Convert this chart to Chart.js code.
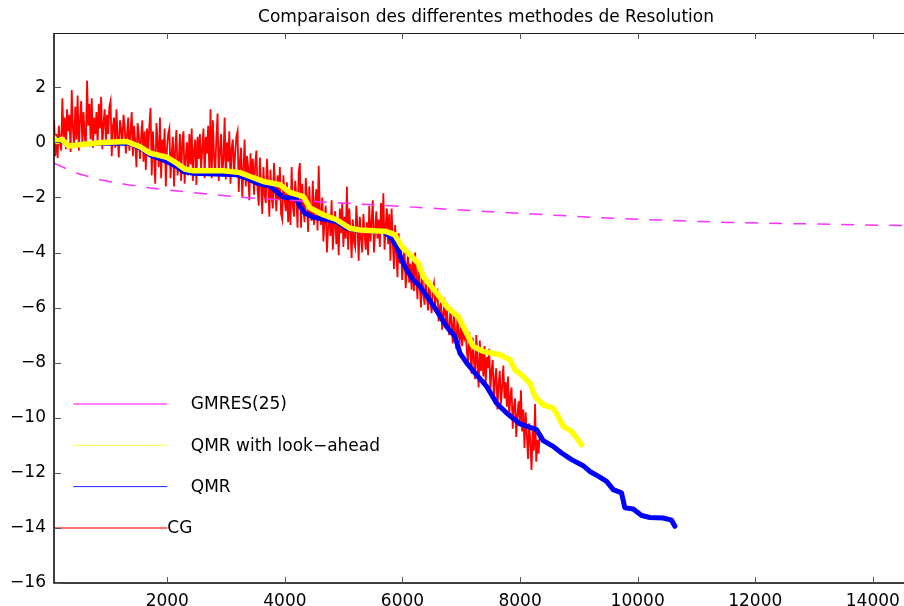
<!DOCTYPE html>
<html>
<head>
<meta charset="utf-8">
<title>Comparaison des differentes methodes de Resolution</title>
<script src="https://cdn.jsdelivr.net/npm/chart.js@4.4.1/dist/chart.umd.min.js"></script>
<style>
  body { margin: 0; background: #fff; }
  #wrap { width: 904px; height: 606px; }
</style>
</head>
<body>
<div id="wrap"><canvas id="chart" width="904" height="606"></canvas></div>
<script>
const chartTitle = 'Comparaison des differentes methodes de Resolution';
const xTicks = [2000, 4000, 6000, 8000, 10000, 12000, 14000];
const yTicks = [-16, -14, -12, -10, -8, -6, -4, -2, 0, 2];

// GMRES(25), dashed magenta
const gmresIter = [73, 460, 855, 1300, 1706, 2556, 3457, 4480, 5790, 7320, 9480, 11520, 14460, 14700];
const gmresRes = [-0.76, -1.12, -1.36, -1.53, -1.66, -1.85, -2.03, -2.15, -2.3, -2.5, -2.75, -2.91, -3.02, -3.03];

// QMR with look-ahead, yellow
const qmrlaIter = [73, 124, 204, 316, 571, 911, 1309, 1535, 1706, 1989, 2159, 2301, 2442, 2952, 3236, 3406,
  3632, 3916, 4086, 4312, 4426, 4652, 4880, 5106, 5276, 5730, 5871, 5986, 6127, 6268, 6353, 6467, 6581,
  6778, 6948, 7091, 7203, 7373, 7657, 7827, 7912, 8053, 8167, 8252, 8393, 8563, 8648, 8733, 8876, 8961, 9046];
const qmrlaRes = [0.16, 0.03, 0.11, -0.13, -0.07, -0.01, 0.03, -0.16, -0.39, -0.54, -0.76, -0.98, -1.03, -1.03, -1.10, -1.24,
  -1.42, -1.54, -1.82, -1.97, -2.38, -2.63, -2.81, -3.12, -3.18, -3.24, -3.36, -3.78, -4.08, -4.39, -4.87, -5.17, -5.47,
  -6.02, -6.32, -6.93, -7.41, -7.59, -7.71, -7.89, -8.26, -8.50, -8.74, -9.23, -9.53, -9.65, -9.95, -10.31, -10.50, -10.73, -10.98];

// QMR, blue
const qmrIter = [73, 204, 316, 571, 911, 1365, 1592, 1706, 1932, 2159, 2272, 2442, 3180, 3350, 3520, 3746, 3860, 3972,
  4200, 4256, 4341, 4482, 4880, 5050, 5220, 5673, 5786, 5900, 5985, 6071, 6183, 6297, 6433, 6608, 6751, 6892,
  6977, 7091, 7261, 7431, 7601, 7771, 7997, 8281, 8393, 8563, 8706, 8876, 9073, 9187, 9328, 9471, 9584, 9726,
  9782, 9924, 10067, 10208, 10434, 10577, 10633];
const qmrRes = [0.12, 0.08, -0.12, -0.06, -0.02, -0.03, -0.27, -0.46, -0.64, -0.88, -1.06, -1.12, -1.18, -1.30, -1.48, -1.59, -1.79, -1.99,
  -2.06, -2.33, -2.57, -2.72, -2.88, -3.12, -3.18, -3.24, -3.42, -3.78, -4.27, -4.63, -4.99, -5.23, -5.64, -6.20, -6.69, -7.05,
  -7.65, -8.01, -8.44, -8.86, -9.47, -9.83, -10.22, -10.43, -10.83, -11.04, -11.28, -11.52, -11.74, -11.95, -12.12, -12.31, -12.61, -12.73,
  -13.27, -13.31, -13.55, -13.62, -13.64, -13.72, -13.94];

// CG, red: one value every cgStep iterations
const cgStart = 75;
const cgStep = 20;
const cgRes = [
  0.8, -0.5, 0.3, -0.57, 0.6, 0.0,
  -0.3, 1.6, 0.2, 0.9, -0.25, 1.2, 0.4, 1.0,
  -0.35, 1.9, 0.5, -0.2, 1.3, 0.1, 1.7, -0.3, 0.8, 1.5, -0.1, 1.1,
  0.2, -0.1, 2.24, 0.6, 1.4, 0.1,
  1.6, -0.2, 0.9, 0.3, 1.1, -0.1, 1.4, 0.5, 1.65, -0.25, 0.7, 1.2, 0.0, 1.0, 0.3, 1.3,
  1.5, -0.5, 0.6, 0.9, -0.2, 1.2, 0.2, -0.55, 0.8, 0.5, -0.1, 1.0, 0.6, -0.4, 0.3, 0.9, -0.3, 0.4,
  1.1, -0.5, 0.6, 0.0, -0.9, 0.7, 0.3, -0.6, 0.2, 0.8, -0.7, 0.4, -1.0, 0.5, -0.3, 0.6,
  1.25, -1.2, 0.4, -0.5, -1.5, 0.7, 0.0, -0.9, 0.9, -1.3, 0.1, -0.6, 0.5, -1.6, -0.2, 0.3,
  0.5, -1.3, -0.4, 0.2, -1.6, -0.2, 0.45, -1.2, -0.7, 0.3, -1.4, 0.0,
  0.4, -1.5, -0.5, 0.0, -1.2, 0.3, -0.8, 0.5, -1.4, -0.3, 0.1, -1.55, 0.2, -0.6, 0.3, -1.0, -0.2, 0.5, -1.3, 0.2, -0.4, 0.6, -1.1, 1.2,
  -1.3, 0.8, -0.5, -1.1, 0.2, 1.05, -1.4, -0.3, 0.3, -1.2, -0.6, 0.9, -1.35, 0.0, -0.7, 0.4, -1.5, -0.2, 0.1, -1.2, -0.4, 0.2,
  0.4, -1.8, -0.7, -0.2, -2.0, -1.0, 0.1, -1.6, -0.5, -0.9, -2.1, -0.4, -1.3, -0.6, -1.9, -0.8, -0.3, -1.7,
  -2.3, -0.55, -1.6, -2.6, -0.9, -1.9, -2.2, -0.6, -1.5, -2.7, -1.0, -2.0, -2.4, -0.75, -1.7, -2.5, -1.2, -2.1, -0.9, -2.6,
  -2.8, -1.2, -2.0, -2.5, -1.45, -2.9, -1.8, -3.0, -0.9, -2.3, -2.7, -1.4, -2.0, -3.1, -1.1, -0.75,
  -3.1, -1.5, -2.4, -2.9, -1.3, -2.0, -3.25, -1.6, -2.6, -2.85, -1.4, -3.0, -2.2, -1.7, -3.2, -0.85, -2.5, -3.0,
  -2.0, -3.6, -2.8, -2.3, -4.0, -3.1, -2.6, -3.4, -2.1, -3.9, -3.0, -2.5, -3.7, -2.9, -4.1, -2.4, -3.3, -2.2, -3.8, -2.7, -3.5, -1.6,
  -3.9, -2.4, -3.2, -4.2, -2.8, -3.6, -3.8, -2.3, -3.0, -4.3, -2.7, -3.5, -4.0, -2.6, -3.3, -3.9, -2.9, -4.1,
  -2.3, -3.6, -2.9, -2.1, -4.0, -3.2, -2.5, -3.5, -2.8, -3.8, -2.2, -3.3, -1.85, -3.9, -3.0, -2.4, -3.7, -2.6,
  -4.3, -2.4, -3.6, -4.6, -3.0, -4.0, -4.9, -3.3, -4.4, -3.6, -5.0, -4.2, -3.9, -5.3, -4.5, -4.1, -5.1, -4.4, -5.35, -4.2,
  -5.4, -4.0, -4.9, -5.7, -4.3, -5.2, -6.0, -4.7, -5.5, -5.9, -4.9, -5.6, -6.1, -5.0, -5.7, -6.2, -5.3, -5.1, -6.0, -5.5,
  -5.4, -6.5, -6.0, -5.8, -6.8, -6.2, -5.9, -6.6, -6.1, -6.7,
  -7.0, -6.0, -6.6, -7.3, -6.1, -6.9, -7.5, -6.3, -7.0, -7.2, -6.5, -7.4, -6.9, -7.1, -6.8, -7.6,
  -8.0, -6.9, -7.6, -8.4, -7.1, -7.9, -8.6, -7.0, -8.0, -8.9, -7.2, -8.3, -7.6, -8.5, -7.4, -8.8, -7.8, -8.2,
  -7.5, -9.0, -8.3, -7.9, -9.4, -8.6, -8.2, -9.7, -8.8, -8.3, -9.5, -8.9, -8.1, -9.3, -8.7, -9.6,
  -8.5, -10.0, -9.2, -8.9, -10.4, -9.6, -9.3, -10.7, -9.9, -9.4, -10.2, -9.0, -10.5, -9.7,
  -11.1, -9.8, -10.6, -11.5, -10.2, -10.9, -11.9, -10.4, -11.2, -9.5, -11.6, -10.8, -11.3, -10.6
];

// hand-drawn legend inside the axes (data units)
const legendLabels = ['GMRES(25)', 'QMR with look\u2212ahead', 'QMR', 'CG'];
const legendColors = ['#ff80ff', '#ffff40', '#2020ff', '#ff7070'];
const legendWidths = [2, 1, 1, 2];
const legendLevels = [-9.5, -11, -12.5, -14];
const legendFrom = [400, 400, 400, 0];
const legendTo = [2000, 2000, 2000, 2000];
const legendTextAt = [2400, 2400, 2400, 2000];

const fontFamily = "'DejaVu Sans', sans-serif";

function toPoints(xs, ys) {
    return xs.map((x, i) => ({x: x, y: ys[i]}));
}

function minusSign(v) {
    return v < 0 ? '\u2212' + Math.abs(v) : String(v);
}

const datasets = [];

datasets.push({
    label: 'GMRES(25)',
    data: toPoints(gmresIter, gmresRes),
    borderColor: '#ff30ff',
    borderWidth: 1.5,
    borderDash: [13, 11],
    order: 0
});

legendLabels.forEach((label, i) => {
    datasets.push({
        label: label + ' key',
        data: [{x: legendFrom[i], y: legendLevels[i]}, {x: legendTo[i], y: legendLevels[i]}],
        borderColor: legendColors[i],
        borderWidth: legendWidths[i],
        order: 1
    });
});

datasets.push({
    label: 'QMR with look-ahead',
    data: toPoints(qmrlaIter, qmrlaRes),
    borderColor: '#ffff00',
    borderWidth: 5.5,
    borderJoinStyle: 'round',
    borderCapStyle: 'round',
    order: 2
});

datasets.push({
    label: 'QMR',
    data: toPoints(qmrIter, qmrRes),
    borderColor: '#0000ff',
    borderWidth: 5,
    borderJoinStyle: 'round',
    borderCapStyle: 'round',
    order: 3
});

datasets.push({
    label: 'CG',
    data: cgRes.map((v, i) => ({x: cgStart + i * cgStep, y: v})),
    borderColor: '#ff0000',
    borderWidth: 1.8,
    order: 4
});

// axes box, inward ticks, title and legend text, MATLAB style
const matlabAxes = {
    id: 'matlabAxes',
    afterDraw(chart) {
        const ctx = chart.ctx;
        const area = chart.chartArea;
        const xs = chart.scales.x;
        const ys = chart.scales.y;

        ctx.save();
        ctx.strokeStyle = '#000';
        ctx.lineWidth = 1.5;
        ctx.beginPath();
        ctx.moveTo(area.left, area.top);
        ctx.lineTo(area.left, area.bottom);
        ctx.lineTo(area.right, area.bottom);
        ctx.stroke();

        ctx.lineWidth = 1;
        ctx.strokeStyle = '#222';
        ctx.beginPath();
        ctx.moveTo(area.left, area.top + 0.5);
        ctx.lineTo(area.right, area.top + 0.5);
        ctx.stroke();

        ctx.strokeStyle = '#555';
        ctx.beginPath();
        xTicks.forEach(v => {
            const px = Math.round(xs.getPixelForValue(v)) + 0.5;
            ctx.moveTo(px, area.bottom);
            ctx.lineTo(px, area.bottom - 6);
            ctx.moveTo(px, area.top);
            ctx.lineTo(px, area.top + 6);
        });
        yTicks.forEach(v => {
            const py = Math.round(ys.getPixelForValue(v)) + 0.5;
            ctx.moveTo(area.left, py);
            ctx.lineTo(area.left + 7, py);
        });
        ctx.stroke();

        ctx.fillStyle = '#000';
        ctx.font = '17px ' + fontFamily;
        ctx.textAlign = 'center';
        ctx.textBaseline = 'alphabetic';
        ctx.fillText(chartTitle, (area.left + area.right) / 2 + 7, 22);

        ctx.textAlign = 'left';
        ctx.textBaseline = 'middle';
        legendLabels.forEach((label, i) => {
            ctx.fillText(label, xs.getPixelForValue(legendTextAt[i]), ys.getPixelForValue(legendLevels[i]) + 1);
        });
        ctx.restore();
    }
};

new Chart(document.getElementById('chart'), {
    type: 'line',
    data: {datasets: datasets},
    plugins: [matlabAxes],
    options: {
        responsive: false,
        animation: false,
        parsing: false,
        layout: {padding: {top: 33, left: 0, right: 0, bottom: 0}},
        elements: {
            point: {radius: 0},
            line: {tension: 0}
        },
        plugins: {
            legend: {display: false},
            title: {display: false},
            tooltip: {enabled: false}
        },
        scales: {
            x: {
                type: 'linear',
                min: 73,
                max: 14530,
                grid: {display: false},
                border: {display: false},
                afterBuildTicks: scale => { scale.ticks = xTicks.map(v => ({value: v})); },
                afterFit: scale => { scale.height = 23; },
                ticks: {
                    color: '#000',
                    padding: 0,
                    maxRotation: 0,
                    autoSkip: false,
                    callback: v => String(v),
                    font: {family: fontFamily, size: 17}
                }
            },
            y: {
                type: 'linear',
                min: -16,
                max: 3.97,
                grid: {display: false},
                border: {display: false},
                afterBuildTicks: scale => { scale.ticks = yTicks.map(v => ({value: v})); },
                afterFit: scale => { scale.width = 54; },
                ticks: {
                    color: '#000',
                    padding: 0,
                    autoSkip: false,
                    callback: v => minusSign(v),
                    font: {family: fontFamily, size: 17}
                }
            }
        }
    }
});
</script>
</body>
</html>
